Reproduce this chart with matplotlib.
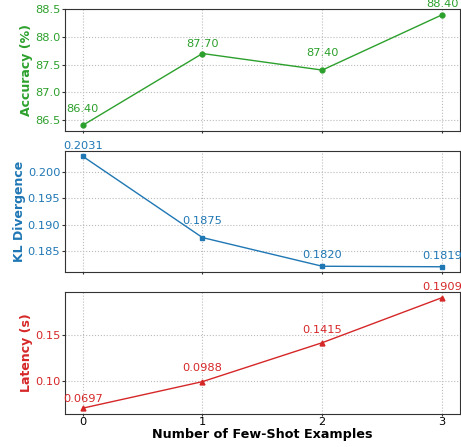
import matplotlib
matplotlib.use("Agg")
import matplotlib.pyplot as plt

shots = [0, 1, 2, 3]
accuracy = [86.40, 87.70, 87.40, 88.40]
kl_div = [0.2031, 0.1875, 0.1820, 0.1819]
latency = [0.0697, 0.0988, 0.1415, 0.1909]

acc_labels = ["86.40", "87.70", "87.40", "88.40"]
kl_labels = ["0.2031", "0.1875", "0.1820", "0.1819"]
lat_labels = ["0.0697", "0.0988", "0.1415", "0.1909"]

# vertical label offsets (points) - style only
acc_off = [9.8, 5.0, 9.8, 5.5]
kl_off = [5.2, 10.1, 5.6, 5.6]
lat_off = [4.8, 8.0, 7.3, 5.6]

c_acc = "#2ca02c"
c_kl = "#1f77b4"
c_lat = "#d62728"

fig, axes = plt.subplots(3, 1, sharex=True, figsize=(4.61, 4.47), dpi=100)
fig.subplots_adjust(left=64.7/461, right=460/461, top=1-9.3/447, bottom=1-413.7/447, hspace=0.163)

series = [
    (accuracy, acc_labels, acc_off, c_acc, "o", "Accuracy (%)"),
    (kl_div, kl_labels, kl_off, c_kl, "s", "KL Divergence"),
    (latency, lat_labels, lat_off, c_lat, "^", "Latency (s)"),
]

for ax, (vals, labs, offs, col, mk, yl) in zip(axes, series):
    ax.plot(shots, vals, color=col, marker=mk, markersize=3.5, linewidth=1)
    for x, y, t, o in zip(shots, vals, labs, offs):
        ax.annotate(t, (x, y), xytext=(0, o), textcoords="offset points",
                    ha="center", va="baseline", color=col, fontsize=8.2, clip_on=False)
    ax.set_ylabel(yl, color=col, fontsize=9, fontweight="bold", labelpad=1.5)
    ax.tick_params(axis="y", labelcolor=col, color="#333333", labelsize=8.2, length=2.2, pad=1)
    ax.tick_params(axis="x", labelsize=8.2, length=1.5, pad=0.8, color="#333333")
    ax.grid(True, linestyle=":", color="#bbbbbb", linewidth=0.8)
    for s in ax.spines.values():
        s.set_color("#333333")

axes[0].set_yticks([86.5, 87.0, 87.5, 88.0, 88.5])
axes[1].set_yticks([0.185, 0.190, 0.195, 0.200])
axes[2].set_yticks([0.10, 0.15])
axes[2].set_xticks(shots)
axes[2].set_xlabel("Number of Few-Shot Examples", fontsize=9.2, fontweight="bold", labelpad=1)

fig.savefig("out.png", dpi=100)
